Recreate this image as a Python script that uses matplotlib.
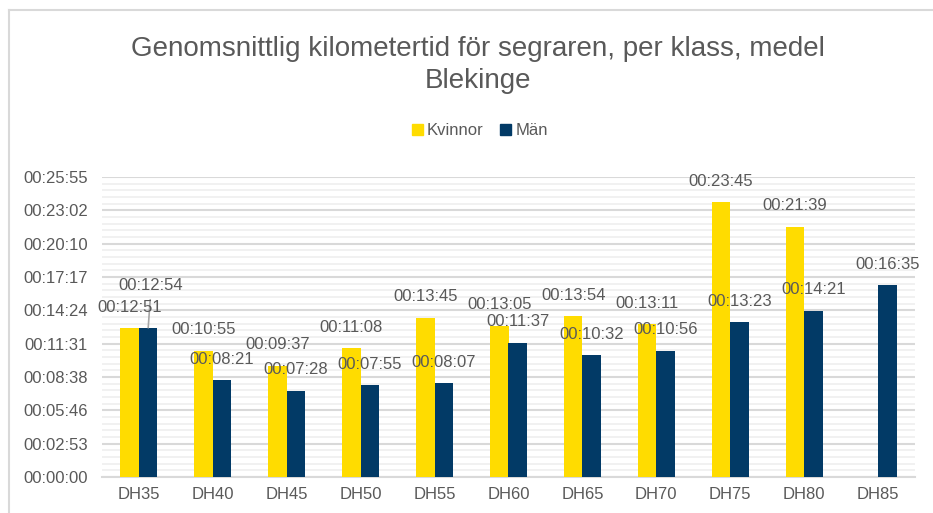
import matplotlib
matplotlib.use('Agg')
import matplotlib.pyplot as plt
from matplotlib.ticker import MultipleLocator, FuncFormatter
from matplotlib.lines import Line2D
from matplotlib.patches import Patch
import numpy as np

plt.rcParams['font.family'] = ['Liberation Sans', 'DejaVu Sans']

categories = ['DH35', 'DH40', 'DH45', 'DH50', 'DH55', 'DH60', 'DH65', 'DH70', 'DH75', 'DH80', 'DH85']
women_times = ['00:12:51', '00:10:55', '00:09:37', '00:11:08', '00:13:45', '00:13:05',
               '00:13:54', '00:13:11', '00:23:45', '00:21:39', None]
men_times = ['00:12:54', '00:08:21', '00:07:28', '00:07:55', '00:08:07', '00:11:37',
             '00:10:32', '00:10:56', '00:13:23', '00:14:21', '00:16:35']
series_names = ['Kvinnor', 'Män']
title = 'Genomsnittlig kilometertid för segraren, per klass, medel\nBlekinge'


def to_sec(t):
    if t is None:
        return np.nan
    h, m, s = (int(p) for p in t.split(':'))
    return h * 3600 + m * 60 + s


def fmt(v, pos=None):
    s = int(round(v))
    return f'{s // 3600:02d}:{(s % 3600) // 60:02d}:{s % 60:02d}'


women = np.array([to_sec(t) for t in women_times], dtype=float)
men = np.array([to_sec(t) for t in men_times], dtype=float)

YELLOW = '#FFDC00'
NAVY = '#023A66'
TXT = '#595959'
FS = 12

W, H = 933, 513
fig = plt.figure(figsize=(W / 100, H / 100), dpi=100)
ax = fig.add_axes([102 / W, (H - 477) / H, (915 - 102) / W, 300 / H])

x = np.arange(len(categories))
bw = 0.25
ax.bar(x - bw / 2, women, bw, color=YELLOW, zorder=3)
ax.bar(x + bw / 2, men, bw, color=NAVY, zorder=3)

step = 172.8  # 0.002 day
ax.set_ylim(0, 1556)
ax.set_xlim(-0.5, len(categories) - 0.5)
ax.yaxis.set_major_locator(MultipleLocator(step))
ax.yaxis.set_minor_locator(MultipleLocator(step / 5))
ax.yaxis.set_major_formatter(FuncFormatter(fmt))
ax.grid(axis='y', which='major', color='#D9D9D9', lw=1.5, zorder=0)
ax.grid(axis='y', which='minor', color='#EFEFEF', lw=1.2, zorder=0)
ax.set_axisbelow(True)
for s in ['top', 'right', 'left']:
    ax.spines[s].set_visible(False)
ax.spines['bottom'].set_color('#D9D9D9')
ax.spines['bottom'].set_linewidth(1.5)
ax.tick_params(axis='y', which='both', length=0, pad=10, labelsize=FS, labelcolor=TXT)
ax.tick_params(axis='x', length=0, pad=7, labelsize=FS, labelcolor=TXT)
ax.set_xticks(x)
ax.set_xticklabels(categories)

# data labels
for i in range(len(categories)):
    for vals, off in ((women, -bw / 2), (men, bw / 2)):
        v = vals[i]
        if np.isnan(v):
            continue
        if i == 0 and vals is men:
            ax.annotate(fmt(v), xy=(i + off, v), xytext=(2, 42), textcoords='offset pixels',
                        ha='center', va='center', fontsize=FS, color=TXT, zorder=5)
            ax.annotate('', xy=(i + off, v), xytext=(2, 28), textcoords='offset pixels',
                        arrowprops=dict(arrowstyle='-', color='#A6A6A6', lw=1.2, shrinkA=0, shrinkB=0),
                        zorder=4)
        else:
            ax.annotate(fmt(v), xy=(i + off, v), xytext=(0, 21), textcoords='offset pixels',
                        ha='center', va='center', fontsize=FS, color=TXT, zorder=5)

fig.text(478 / W, 1 - 65 / H, title, ha='center', va='center', fontsize=20,
         color=TXT, linespacing=1.3)

handles = [Patch(color=YELLOW), Patch(color=NAVY)]
fig.legend(handles, series_names, loc='center', bbox_to_anchor=(480 / W, 1 - 131 / H),
           ncol=2, frameon=False, fontsize=FS, labelcolor=TXT, handlelength=0.65,
           handleheight=0.65, handletextpad=0.25, columnspacing=1.0)

# chart frame
fig.add_artist(Line2D([8.5 / W, 8.5 / W], [0, 1 - 10 / H], color='#D9D9D9', lw=1.5))
fig.add_artist(Line2D([8.5 / W, 1], [1 - 10 / H, 1 - 10 / H], color='#D9D9D9', lw=1.5))

fig.savefig('out.png', dpi=100, facecolor='white')
